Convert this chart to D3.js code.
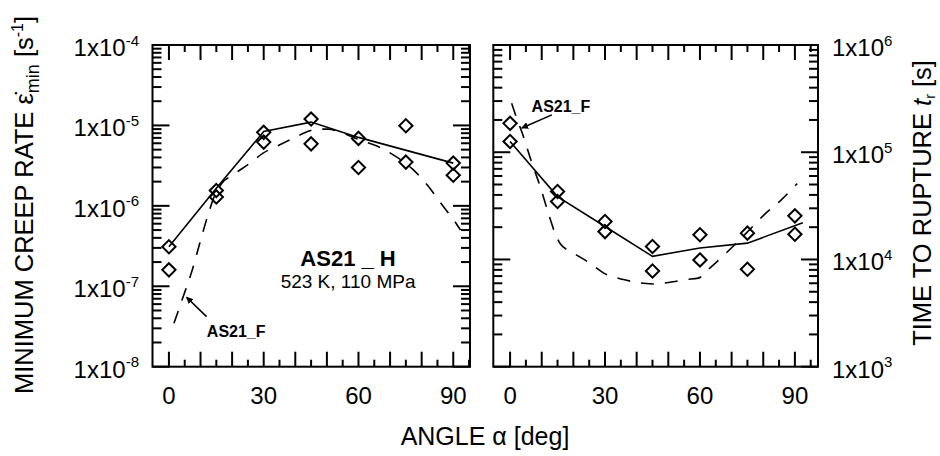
<!DOCTYPE html>
<html>
<head>
<meta charset="utf-8">
<script src="https://cdn.jsdelivr.net/npm/d3@7"></script>
<style>
  body { margin: 0; background: #fff; }
  text { font-family: "Liberation Sans", Arial, Helvetica, sans-serif; fill: #000; }
</style>
</head>
<body>
<svg id="chart" width="940" height="456"></svg>
<script>
// ---- measured data: AS21 _ H, 523 K, 110 MPa ----
const angles = [0, 15, 30, 45, 60, 75, 90];

// minimum creep rate [1/s], two specimens per angle
const creepRateA = [3.1e-7, 1.55e-6, 8.2e-6, 1.2e-5, 6.9e-6, 9.9e-6, 3.4e-6];
const creepRateB = [1.6e-7, 1.29e-6, 6.2e-6, 5.9e-6, 3.0e-6, 3.5e-6, 2.4e-6];

// trend line through the creep-rate data
const creepTrendAngles = [0, 15, 30, 45, 60, 90];
const creepTrendValues = [3.1e-7, 1.65e-6, 8.4e-6, 1.1e-5, 7.1e-6, 3.4e-6];

// AS21_F reference curve, creep rate
const creepRefAngles = [1.6, 4.5, 7.2, 9.8, 12.4, 14.6, 16.7, 20.3, 25.6, 29.8, 35.1, 39.3, 43.6, 47, 50.4, 54.6, 60.4, 66.2, 70.5, 74.2, 77.3, 80, 82.6, 85.2, 87.9, 90, 92.3];
const creepRefValues = [3.47e-8, 7.4e-8, 1.51e-7, 3.47e-7, 7.8e-7, 1.38e-6, 1.9e-6, 2.43e-6, 3.39e-6, 4.52e-6, 5.75e-6, 6.9e-6, 8.3e-6, 9.0e-6, 9.0e-6, 8.15e-6, 6.6e-6, 5.46e-6, 4.43e-6, 3.55e-6, 2.82e-6, 2.19e-6, 1.66e-6, 1.2e-6, 8.7e-7, 6.8e-7, 5.0e-7];

// time to rupture [s], two specimens per angle
const ruptureA = [1.86e5, 4.3e4, 2.26e4, 1.32e4, 1.7e4, 1.76e4, 2.55e4];
const ruptureB = [1.26e5, 3.47e4, 1.82e4, 7.8e3, 9.9e3, 8.1e3, 1.72e4];

// trend line through the rupture data
const ruptureTrendAngles = [0, 15, 30, 45, 60, 75, 92.5];
const ruptureTrendValues = [1.26e5, 3.86e4, 2.03e4, 1.07e4, 1.28e4, 1.42e4, 2.2e4];

// AS21_F reference curve, rupture time
const ruptureRefAngles = [0.5, 2.1, 3.7, 6.8, 9.5, 12.1, 14.2, 15.8, 20, 25.3, 29.5, 35.8, 42.1, 45.3, 51.5, 55.7, 59.5, 63.1, 70.4, 75.7, 80.4, 85.7, 90.7];
const ruptureRefValues = [2.86e5, 2.07e5, 1.55e5, 8.1e4, 4.8e4, 2.7e4, 1.76e4, 1.41e4, 1.15e4, 9.2e3, 7.5e3, 6.5e3, 6.0e3, 5.9e3, 6.2e3, 6.5e3, 6.7e3, 8.3e3, 1.32e4, 1.9e4, 2.63e4, 3.6e4, 5.1e4];

// axis ticks
const angleTickLabels = [0, 30, 60, 90];
const creepDecades = [-8, -7, -6, -5, -4];
const ruptureDecades = [3, 4, 5, 6];

// ---- drawing ----
const svg = d3.select("#chart");
const TOP = 45, BOTTOM = 366.7;

const diamond = {
  draw(ctx, size) {
    const r = Math.sqrt(size / 2);
    ctx.moveTo(0, -r); ctx.lineTo(r, 0); ctx.lineTo(0, r); ctx.lineTo(-r, 0); ctx.closePath();
  }
};

svg.append("defs").append("marker")
  .attr("id", "arrowhead")
  .attr("viewBox", "0 0 10 10")
  .attr("refX", 9).attr("refY", 5)
  .attr("markerWidth", 7).attr("markerHeight", 7)
  .attr("markerUnits", "userSpaceOnUse")
  .attr("orient", "auto")
  .append("path").attr("d", "M0,0 L10,5 L0,10 Z").attr("fill", "#000");

function powerLabel(sel, exp) {
  sel.append("tspan").text("1x10");
  sel.append("tspan").attr("dy", -10.5).attr("font-size", 15).text(exp);
}

function drawPanel(cfg) {
  const g = svg.append("g");
  const x = d3.scaleLinear().domain(cfg.xDomain).range(cfg.xRange);
  const y = d3.scaleLog().domain(cfg.yDomain).range([BOTTOM, TOP]);
  const [x0, x1] = cfg.xRange;

  const tickStyle = s => s.attr("stroke", "#000").attr("stroke-width", 2);

  // angle ticks on top and bottom, pointing inward
  const xTicks = d3.range(0, 96, 5);
  xTicks.forEach(t => {
    const len = t % 10 === 0 ? 15 : 7;
    g.append("line").attr("x1", x(t)).attr("x2", x(t)).attr("y1", BOTTOM).attr("y2", BOTTOM - len).call(tickStyle);
    g.append("line").attr("x1", x(t)).attr("x2", x(t)).attr("y1", TOP).attr("y2", TOP + len).call(tickStyle);
  });

  // log ticks on both sides, pointing inward
  y.ticks().forEach(v => {
    const lg = Math.log10(v);
    const major = Math.abs(lg - Math.round(lg)) < 1e-9;
    const len = major ? 17 : 9;
    g.append("line").attr("x1", x0).attr("x2", x0 + len).attr("y1", y(v)).attr("y2", y(v)).call(tickStyle);
    g.append("line").attr("x1", x1).attr("x2", x1 - len).attr("y1", y(v)).attr("y2", y(v)).call(tickStyle);
  });

  // frame
  g.append("rect").attr("x", x0).attr("y", TOP).attr("width", x1 - x0).attr("height", BOTTOM - TOP)
    .attr("fill", "none").attr("stroke", "#000").attr("stroke-width", 2);

  // angle tick labels
  g.selectAll("text.xl").data(angleTickLabels).join("text")
    .attr("x", d => x(d)).attr("y", 404).attr("text-anchor", "middle").attr("font-size", 24).text(d => d);

  // decade labels
  cfg.decades.forEach(e => {
    const t = g.append("text").attr("font-size", 24).attr("y", y(Math.pow(10, e)) + 11);
    if (cfg.labelSide === "left") t.attr("x", 139).attr("text-anchor", "end");
    else t.attr("x", 832).attr("text-anchor", "start");
    powerLabel(t, String(e));
  });

  // reference curve (dashed)
  const refPts = cfg.refAngles.map((a, i) => [a, cfg.refValues[i]]);
  g.append("path").datum(refPts)
    .attr("d", d3.line().x(d => x(d[0])).y(d => y(d[1])).curve(d3.curveMonotoneX))
    .attr("fill", "none").attr("stroke", "#000").attr("stroke-width", 1.6).attr("stroke-dasharray", "13,11");

  // trend line (solid)
  const trendPts = cfg.trendAngles.map((a, i) => [a, cfg.trendValues[i]]);
  g.append("path").datum(trendPts)
    .attr("d", d3.line().x(d => x(d[0])).y(d => y(d[1])))
    .attr("fill", "none").attr("stroke", "#000").attr("stroke-width", 1.6);

  // measured points
  const sym = d3.symbol().type(diamond).size(88);
  [cfg.seriesA, cfg.seriesB].forEach(series => {
    g.selectAll(null).data(angles.map((a, i) => [a, series[i]])).join("path")
      .attr("transform", d => `translate(${x(d[0])},${y(d[1])})`)
      .attr("d", sym).attr("fill", "none").attr("stroke", "#000").attr("stroke-width", 2);
  });

  return { g, x, y };
}

// left panel: minimum creep rate
const left = drawPanel({
  xDomain: [-5.2, 95.3], xRange: [152.5, 470],
  yDomain: [1e-8, 1e-4], decades: creepDecades, labelSide: "left",
  seriesA: creepRateA, seriesB: creepRateB,
  trendAngles: creepTrendAngles, trendValues: creepTrendValues,
  refAngles: creepRefAngles, refValues: creepRefValues
});

// right panel: time to rupture
const right = drawPanel({
  xDomain: [-5.3, 97.3], xRange: [493.3, 818],
  yDomain: [1e3, 1e6], decades: ruptureDecades, labelSide: "right",
  seriesA: ruptureA, seriesB: ruptureB,
  trendAngles: ruptureTrendAngles, trendValues: ruptureTrendValues,
  refAngles: ruptureRefAngles, refValues: ruptureRefValues
});

// material / test condition label
left.g.append("text").attr("x", left.x(56.7)).attr("y", left.y(1.8e-7))
  .attr("text-anchor", "middle").attr("font-size", 22).attr("font-weight", "bold").text("AS21 _ H");
left.g.append("text").attr("x", left.x(56.7)).attr("y", left.y(9.6e-8))
  .attr("text-anchor", "middle").attr("font-size", 19).text("523 K, 110 MPa");

// AS21_F callouts
left.g.append("line")
  .attr("x1", left.x(11.9)).attr("y1", left.y(4.2e-8))
  .attr("x2", left.x(5.6)).attr("y2", left.y(7.3e-8))
  .attr("stroke", "#000").attr("stroke-width", 1.6).attr("marker-end", "url(#arrowhead)");
left.g.append("text").attr("x", left.x(12)).attr("y", left.y(2.36e-8))
  .attr("font-size", 16).attr("font-weight", "bold").text("AS21_F");

right.g.append("line")
  .attr("x1", right.x(13.2)).attr("y1", right.y(2.23e5))
  .attr("x2", right.x(3.7)).attr("y2", right.y(1.68e5))
  .attr("stroke", "#000").attr("stroke-width", 1.6).attr("marker-end", "url(#arrowhead)");
right.g.append("text").attr("x", right.x(6.8)).attr("y", right.y(2.38e5))
  .attr("font-size", 16).attr("font-weight", "bold").text("AS21_F");

// axis titles
const xt = svg.append("text").attr("x", 485).attr("y", 445).attr("text-anchor", "middle").attr("font-size", 25);
xt.append("tspan").text("ANGLE ");
xt.append("tspan").text("α");
xt.append("tspan").text(" [deg]");

const lt = svg.append("text").attr("transform", "translate(33,205) rotate(-90)")
  .attr("text-anchor", "middle").attr("font-size", 25.5);
lt.append("tspan").text("MINIMUM CREEP RATE ε\u0307");
lt.append("tspan").attr("dy", 6).attr("font-size", 18).text("min");
lt.append("tspan").attr("dy", -6).text(" [s");
lt.append("tspan").attr("dy", -10).attr("font-size", 16).text("-1");
lt.append("tspan").attr("dy", 10).text("]");

const rt = svg.append("text").attr("transform", "translate(931,203) rotate(-90)")
  .attr("text-anchor", "middle").attr("font-size", 25.5);
rt.append("tspan").text("TIME TO RUPTURE ");
rt.append("tspan").attr("font-style", "italic").text("t");
rt.append("tspan").attr("dy", 4).attr("font-size", 14).text("r");
rt.append("tspan").attr("dy", -4).text(" [s]");
</script>
</body>
</html>
